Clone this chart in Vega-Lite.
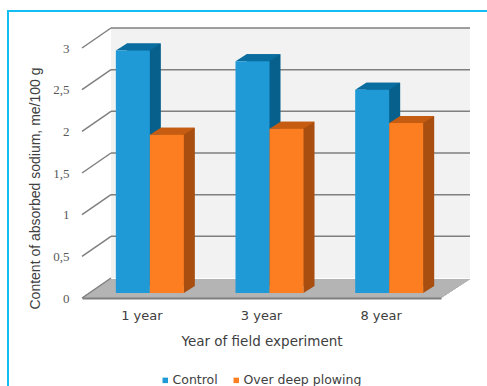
{
  "$schema": "https://vega.github.io/schema/vega-lite/v6.json",
  "width": 359,
  "height": 250,
  "autosize": "none",
  "padding": {"left": 82, "top": 48, "right": 46, "bottom": 88},
  "background": "white",
  "config": {"view": {"stroke": null}},
  "datasets": {
    "bars": [
      {"year": "1 year", "series": "Control", "value": 2.91},
      {"year": "1 year", "series": "Over deep plowing", "value": 1.9},
      {"year": "3 year", "series": "Control", "value": 2.78},
      {"year": "3 year", "series": "Over deep plowing", "value": 1.97},
      {"year": "8 year", "series": "Control", "value": 2.44},
      {"year": "8 year", "series": "Over deep plowing", "value": 2.04}
    ],
    "levels": [
      {"level": 0}, {"level": 0.5}, {"level": 1}, {"level": 1.5}, {"level": 2}, {"level": 2.5}, {"level": 3}
    ]
  },
  "layer": [
    {
      "description": "Box walls, floor and the slanted axis ticks",
      "data": {"name": "levels"},
      "layer": [
        {
          "mark": {"type": "point", "shape": "M-74 338 L-74 -37 L405 -37", "size": 4, "filled": false, "stroke": "#12bdf2", "strokeWidth": 2, "opacity": 1},
          "encoding": {
            "x": {"datum": 0, "type": "quantitative", "scale": {"domain": [0, 1]}, "axis": null},
            "y": {"datum": 3, "type": "quantitative", "scale": {"domain": [0, 3]}}
          }
        },
        {
          "mark": {"type": "rect", "fill": "#f2f2f2", "xOffset": 29, "x2Offset": 29, "yOffset": -20, "y2Offset": -20},
          "encoding": {
            "x": {"datum": 0, "type": "quantitative", "scale": {"domain": [0, 1]}, "axis": null},
            "x2": {"datum": 1},
            "y": {"datum": 0, "type": "quantitative", "scale": {"domain": [0, 3]}},
            "y2": {"datum": 3}
          }
        },
        {
          "mark": {"type": "point", "shape": "M0 0 L29 -19 L388 -19 L359 0 Z", "size": 4, "filled": true, "fill": "#b4b4b4", "opacity": 1},
          "encoding": {
            "x": {"datum": 0, "type": "quantitative", "scale": {"domain": [0, 1]}, "axis": null},
            "y": {"datum": 0, "type": "quantitative", "scale": {"domain": [0, 3]}}
          }
        },
        {
          "transform": [{"filter": "datum.level > 0"}],
          "mark": {"type": "rule", "stroke": "#7f7f7f", "strokeWidth": 1.5, "xOffset": 29, "x2Offset": 29, "yOffset": -20},
          "encoding": {
            "x": {"datum": 0, "type": "quantitative", "scale": {"domain": [0, 1]}, "axis": null},
            "x2": {"datum": 1},
            "y": {"field": "level", "type": "quantitative", "scale": {"domain": [0, 3]}}
          }
        },
        {
          "mark": {"type": "point", "shape": "M0 0 L29 -20", "size": 4, "filled": false, "stroke": "#7f7f7f", "strokeWidth": 1.5, "opacity": 1},
          "encoding": {
            "x": {"datum": 0, "type": "quantitative", "scale": {"domain": [0, 1]}, "axis": null},
            "y": {
              "field": "level",
              "type": "quantitative",
              "scale": {"domain": [0, 3]},
              "axis": {
                "values": [0, 0.5, 1, 1.5, 2, 2.5, 3],
                "format": "~g",
                "labelExpr": "replace(datum.label, '.', ',')",
                "grid": false,
                "ticks": false,
                "domain": false,
                "labelPadding": 13,
                "labelFont": "Liberation Serif",
                "labelFontSize": 13,
                "labelColor": "#595959",
                "title": "Content of absorbed sodium, me/100 g",
                "titleFont": "Liberation Sans",
                "titleFontSize": 14,
                "titleFontWeight": "normal",
                "titleColor": "#404040",
                "titleX": -40,
                "titleY": 140
              }
            }
          }
        }
      ]
    },
    {
      "description": "Extruded bars: back strip, top face, bottom corner, front face",
      "data": {"name": "bars"},
      "resolve": {"scale": {"xOffset": "independent"}},
      "layer": [
        {
          "mark": {"type": "bar", "yOffset": -12, "y2Offset": -12},
          "encoding": {
            "x": {
              "field": "year",
              "type": "nominal",
              "scale": {"paddingInner": 0.432, "paddingOuter": 0.216},
              "axis": {
                "title": "Year of field experiment",
                "labelAngle": 0,
                "ticks": false,
                "grid": false,
                "domain": true,
                "domainColor": "#7f7f7f",
                "domainWidth": 2,
                "zindex": 1,
                "labelPadding": 11,
                "labelFont": "DejaVu Sans",
                "labelFontSize": 13,
                "labelColor": "#404040",
                "titleFont": "DejaVu Sans",
                "titleFontSize": 13.5,
                "titleFontWeight": "normal",
                "titleColor": "#404040",
                "titlePadding": 12
              }
            },
            "xOffset": {"field": "series", "type": "nominal", "scale": {"range": [19, 87], "padding": 0}},
            "y": {"field": "value", "type": "quantitative", "scale": {"domain": [0, 3]}},
            "color": {"condition": {"test": "datum.series === 'Control'", "value": "#07608b"}, "value": "#a84e10"}
          }
        },
        {
          "mark": {"type": "point", "shape": "M0 0 L11 -7 L45 -7 L34 0 Z", "size": 4, "filled": true, "opacity": 1, "yOffset": -5},
          "encoding": {
            "x": {"field": "year", "type": "nominal"},
            "xOffset": {"field": "series", "type": "nominal", "scale": {"range": [8, 42], "padding": 0}},
            "y": {"field": "value", "type": "quantitative", "scale": {"domain": [0, 3]}},
            "color": {"condition": {"test": "datum.series === 'Control'", "value": "#0a6d9f"}, "value": "#c55c12"}
          }
        },
        {
          "mark": {"type": "point", "shape": "M34 0 L34 -7 L45 -7 Z", "size": 4, "filled": true, "opacity": 1, "yOffset": -5},
          "encoding": {
            "x": {"field": "year", "type": "nominal"},
            "xOffset": {"field": "series", "type": "nominal", "scale": {"range": [8, 42], "padding": 0}},
            "y": {"datum": 0, "type": "quantitative", "scale": {"domain": [0, 3]}},
            "color": {"condition": {"test": "datum.series === 'Control'", "value": "#07608b"}, "value": "#a84e10"}
          }
        },
        {
          "mark": {"type": "bar", "yOffset": -5, "y2Offset": -5},
          "encoding": {
            "x": {"field": "year", "type": "nominal"},
            "xOffset": {"field": "series", "type": "nominal", "scale": {"range": [8, 76], "padding": 0}},
            "y": {"field": "value", "type": "quantitative", "scale": {"domain": [0, 3]}},
            "color": {
              "field": "series",
              "type": "nominal",
              "scale": {"domain": ["Control", "Over deep plowing"], "range": ["#1f9ad7", "#fd7e20"]},
              "legend": {
                "title": null,
                "orient": "none",
                "legendX": 77,
                "legendY": 326,
                "direction": "horizontal",
                "columns": 2,
                "symbolType": "square",
                "symbolSize": 30,
                "symbolStrokeWidth": 0,
                "labelFont": "DejaVu Sans",
                "labelFontSize": 12.5,
                "labelColor": "#404040",
                "labelOffset": 1,
                "columnPadding": 12
              }
            }
          }
        }
      ]
    }
  ],
  "resolve": {"scale": {"x": "independent"}}
}
